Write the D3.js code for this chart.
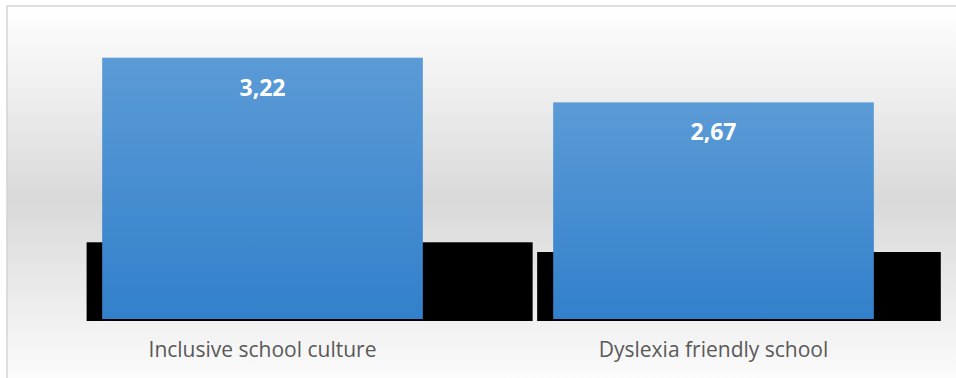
<!DOCTYPE html>
<html>
<head>
<meta charset="utf-8">
<script src="https://cdn.jsdelivr.net/npm/d3@7"></script>
<style>
  body { margin: 0; background: #fff; }
  svg { display: block; }
</style>
</head>
<body>
<svg></svg>
<script>
// data
const categories = ['Inclusive school culture', 'Dyslexia friendly school'];
const values = [3.22, 2.67];
const valueLabels = ['3,22', '2,67'];
// the black blocks behind the bars (height in value units, extent in category units)
const shadowValues = [0.97, 0.85];
const shadowStart = [-0.39, 0.609];
const shadowEnd = [0.599, 1.504];

let width = 956;
let height = 378;
let svg = d3.select('svg').attr('width', width).attr('height', height);

let defs = svg.append('defs');

// chart area background: white -> gray -> white
let bg = defs.append('linearGradient')
  .attr('id', 'bg-grad')
  .attr('x1', 0).attr('y1', 0).attr('x2', 0).attr('y2', 1);
bg.append('stop').attr('offset', '0%').attr('stop-color', '#ffffff');
bg.append('stop').attr('offset', '50%').attr('stop-color', '#d9d9d9');
bg.append('stop').attr('offset', '100%').attr('stop-color', '#ffffff');

let barGrad = defs.append('linearGradient')
  .attr('id', 'bar-grad')
  .attr('x1', 0).attr('y1', 0).attr('x2', 0).attr('y2', 1);
barGrad.append('stop').attr('offset', '0%').attr('stop-color', '#5b9bd6');
barGrad.append('stop').attr('offset', '100%').attr('stop-color', '#3280cb');

svg.append('rect')
  .attr('x', 7)
  .attr('y', 6)
  .attr('width', 960)
  .attr('height', 390)
  .attr('fill', 'url(#bg-grad)')
  .attr('stroke', '#d4d4d4')
  .attr('stroke-width', 1.5);

// scales
let x = d3.scaleBand()
  .domain(categories)
  .range([37, 939])
  .paddingInner(0.289)
  .paddingOuter(0.1445);

// linear scale in category units for the black blocks
let xc = d3.scaleLinear()
  .domain([0, 1])
  .range([x(categories[0]) + x.bandwidth() / 2, x(categories[1]) + x.bandwidth() / 2]);

let y = d3.scaleLinear()
  .domain([0, 3.5])
  .range([319, 35]);

// black blocks
svg.selectAll('rect.shadow')
  .data(shadowValues)
  .enter()
  .append('rect')
  .attr('class', 'shadow')
  .attr('x', (d, i) => xc(shadowStart[i]))
  .attr('width', (d, i) => xc(shadowEnd[i]) - xc(shadowStart[i]))
  .attr('y', (d) => y(d) + 2)
  .attr('height', (d) => y(0) - y(d))
  .attr('fill', '#000');

// bars
svg.selectAll('rect.bar')
  .data(values)
  .enter()
  .append('rect')
  .attr('class', 'bar')
  .attr('x', (d, i) => x(categories[i]))
  .attr('width', x.bandwidth())
  .attr('y', (d) => y(d))
  .attr('height', (d) => y(0) - y(d))
  .attr('fill', 'url(#bar-grad)');

// value labels
svg.selectAll('text.value')
  .data(values)
  .enter()
  .append('text')
  .attr('class', 'value')
  .attr('x', (d, i) => x(categories[i]) + x.bandwidth() / 2)
  .attr('y', (d) => y(d) + 38)
  .attr('text-anchor', 'middle')
  .style('font-family', '"Open Sans", sans-serif')
  .style('font-weight', 'bold')
  .style('font-size', '23px')
  .style('fill', '#ffffff')
  .text((d, i) => valueLabels[i]);

// category axis
let xAxis = d3.axisBottom(x).tickSize(0).tickPadding(0);
let gx = svg.append('g')
  .attr('transform', `translate(0, ${y(0)})`)
  .call(xAxis);
gx.select('.domain').remove();
gx.selectAll('text')
  .attr('dy', null)
  .attr('y', 38)
  .style('font-family', '"Open Sans", sans-serif')
  .style('font-size', '21px')
  .style('fill', '#595959');
</script>
</body>
</html>
